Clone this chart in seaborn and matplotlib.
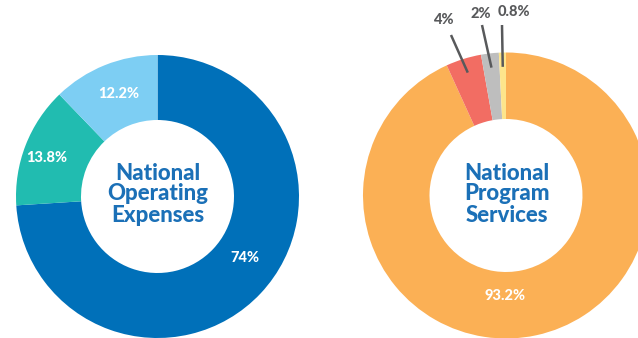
import numpy as np
import matplotlib
matplotlib.use("Agg")
import matplotlib.pyplot as plt
import seaborn as sns

# Data
ops_labels = ["Program", "Fundraising", "Management"]
ops_values = [74.0, 13.8, 12.2]
ops_colors = ["#0070B9", "#21BCB0", "#7DCEF3"]

prog_labels = ["Programs", "Category B", "Category C", "Category D"]
prog_values = [93.2, 4.0, 2.0, 0.8]
prog_colors = ["#FBB055", "#F26D63", "#BEBEBE", "#FDE58C"]

sns.set_theme(style="white")
plt.rcParams["font.family"] = ["Lato", "DejaVu Sans"]

W, H = 638, 338
fig = plt.figure(figsize=(W / 100, H / 100), dpi=100)
ax = fig.add_axes([0, 0, 1, 1])

def fmt(v):
    return f"{v:g}%"

hole = 76.5
# left donut
c1 = (157.5, H - 196.5)
r1 = 141.5
ax.pie(ops_values, colors=ops_colors, startangle=90, counterclock=False,
       radius=r1, center=c1, wedgeprops=dict(width=r1 - hole, linewidth=0))
# right donut
c2 = (506, H - 195.5)
r2 = 143
wedges2, _ = ax.pie(prog_values, colors=prog_colors, startangle=90, counterclock=False,
                    radius=r2, center=c2, wedgeprops=dict(width=r2 - hole, linewidth=0))

ax.set_xlim(0, W)
ax.set_ylim(0, H)
ax.set_aspect("auto")
ax.axis("off")

blue = "#1B70B7"
ax.text(157.5, H - 194, "National\nOperating\nExpenses", ha="center", va="center",
        fontsize=16, fontweight=900, color=blue, linespacing=1.0)
ax.text(507, H - 194, "National\nProgram\nServices", ha="center", va="center",
        fontsize=16, fontweight=900, color=blue, linespacing=1.0)

# inner white labels (pixel positions)
inner_pos_ops = [(245, 258), (47, 158), (119, 94)]
for v, (x, y) in zip(ops_values, inner_pos_ops):
    ax.text(x, H - y, fmt(v), ha="center", va="center", color="white",
            fontsize=10.5, fontweight=900)
ax.text(505, H - 296, fmt(prog_values[0]), ha="center", va="center", color="white",
        fontsize=10.5, fontweight=900)

# outer labels with leader lines for small slices
grey = "#58595B"
text_pos = [(443, 20), (481, 14), (514, 12)]
line_top = [(451, 35), (482, 25), (502, 25)]
for w, v, (tx, ty), (lx, ly) in zip(wedges2[1:], prog_values[1:], text_pos, line_top):
    ang = np.deg2rad((w.theta1 + w.theta2) / 2)
    px = c2[0] + 0.9 * r2 * np.cos(ang)
    py = c2[1] + 0.9 * r2 * np.sin(ang)
    ax.plot([lx, px], [H - ly, py], color=grey, lw=1.8, solid_capstyle="butt")
    ax.text(tx, H - ty, fmt(v), ha="center", va="center", color=grey,
            fontsize=10.5, fontweight=900)

fig.savefig("out.png", dpi=100)
